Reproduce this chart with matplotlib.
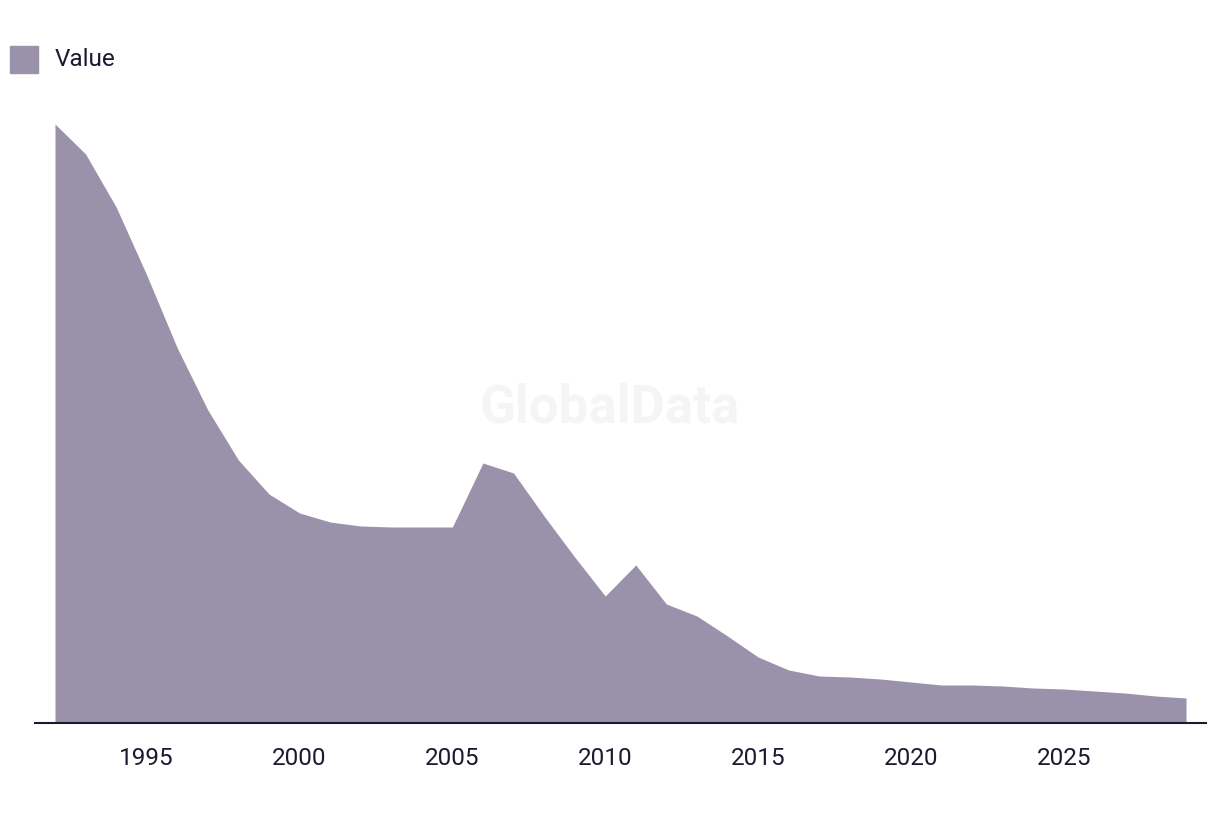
import matplotlib.pyplot as plt
from matplotlib.patches import Rectangle

# --- data (arbitrary units, no y axis shown) ---
years = list(range(1992, 2030))
values = [599, 569, 516, 448, 375, 313, 263, 229, 210, 201, 197, 196, 196, 196,
          260, 250, 207, 166, 127, 158, 119, 107, 87, 66, 53, 47, 46, 44,
          41, 38, 38, 37, 35, 34, 32, 30, 27, 25]
tick_years = [1995, 2000, 2005, 2010, 2015, 2020, 2025]
series_name = "Value"

fill_color = "#9a91aa"
text_color = "#1c1a30"

plt.rcParams['font.family'] = ['Roboto', 'DejaVu Sans']

fig = plt.figure(figsize=(12.2, 8.14), dpi=100)
ax = fig.add_axes([35 / 1220, 1 - 723 / 814, (1206 - 35) / 1220, (723 - 100) / 814])

ax.fill_between(years, values, 0, color=fill_color, linewidth=0)
ax.set_xlim(1992 - 20 / 30.57, 2029 + 20 / 30.57)
ax.set_ylim(0, 623)

for s in ['top', 'right', 'left']:
    ax.spines[s].set_visible(False)
ax.spines['bottom'].set_color(text_color)
ax.spines['bottom'].set_linewidth(1.5)
ax.set_yticks([])
ax.set_xticks(tick_years)
ax.set_xticklabels([str(y) for y in tick_years], fontsize=17.5, color=text_color)
ax.tick_params(axis='x', length=0, pad=17)

# watermark
fig.text(610 / 1220, 1 - 408 / 814, "GlobalData", fontsize=38, fontweight='bold',
         color="#f5f5f5", ha='center', va='center', zorder=0)

# legend
fig.patches.append(Rectangle((10 / 1220, 1 - 73 / 814), 28 / 1220, 27 / 814,
                             transform=fig.transFigure, color=fill_color, figure=fig))
fig.text(55 / 1220, 1 - 59 / 814, series_name, fontsize=17.5, color=text_color,
         ha='left', va='center')

fig.savefig("out.png", dpi=100)
